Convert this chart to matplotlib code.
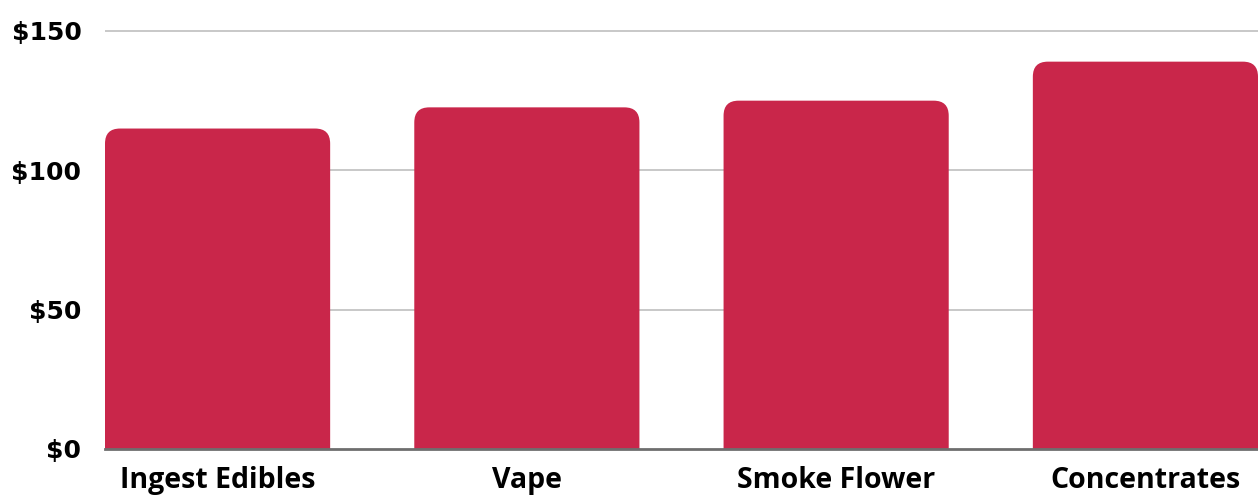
import matplotlib
matplotlib.use("Agg")
import matplotlib.pyplot as plt
from matplotlib.patches import FancyBboxPatch

categories = ["Ingest Edibles", "Vape", "Smoke Flower", "Concentrates"]
values = [115, 122.6, 125, 139]
yticks = [0, 50, 100, 150]
ytick_labels = ["$0", "$50", "$100", "$150"]

BAR_COLOR = "#C9264A"
W, H, DPI = 12.58, 4.99, 100

plt.rcParams["font.family"] = ["Open Sans", "DejaVu Sans"]
plt.rcParams["font.weight"] = "bold"

fig = plt.figure(figsize=(W, H), dpi=DPI)
# axes spans from the $0 baseline up past the $150 gridline
left_px, right_px = 105, 1258
bottom_px, top_px = 449, 20
ax = fig.add_axes([left_px / 1258, (499 - bottom_px) / 499,
                   (right_px - left_px) / 1258, (bottom_px - top_px) / 499])

bar_w = 0.728
n = len(categories)
ax.set_xlim(-bar_w / 2, n - 1 + bar_w / 2)
ymax = 150 * (bottom_px - top_px) / (449 - 31)
ax.set_ylim(0, ymax)

# data units per pixel, used to keep corner rounding circular
x_per_px = (n - 1 + bar_w) / (right_px - left_px)
y_per_px = ymax / (bottom_px - top_px)
aspect = y_per_px / x_per_px
radius_px = 15
r = radius_px * x_per_px

for i, v in enumerate(values):
    extra = radius_px * y_per_px * 2
    patch = FancyBboxPatch((i - bar_w / 2, -extra), bar_w, v + extra,
                           boxstyle=f"round,pad=0,rounding_size={r}",
                           mutation_aspect=aspect,
                           facecolor=BAR_COLOR, edgecolor="none",
                           zorder=3, clip_on=True)
    ax.add_patch(patch)

ax.set_yticks(yticks)
ax.set_yticklabels(ytick_labels, fontfamily="DejaVu Sans", fontsize=18,
                   fontweight="bold")
ax.set_xticks(range(n))
ax.set_xticklabels(categories, fontsize=20.5, fontweight="bold")

for t in yticks[1:]:
    ax.axhline(t, color="#C4C4C4", lw=1.3, zorder=1)
ax.axhline(0, color="#6E6E6E", lw=2.0, zorder=4, clip_on=False)

for s in ax.spines.values():
    s.set_visible(False)
ax.tick_params(axis="both", length=0, labelcolor="black")
ax.tick_params(axis="y", pad=17)
ax.tick_params(axis="x", pad=12)

fig.savefig("out.png", dpi=DPI, facecolor="white")
